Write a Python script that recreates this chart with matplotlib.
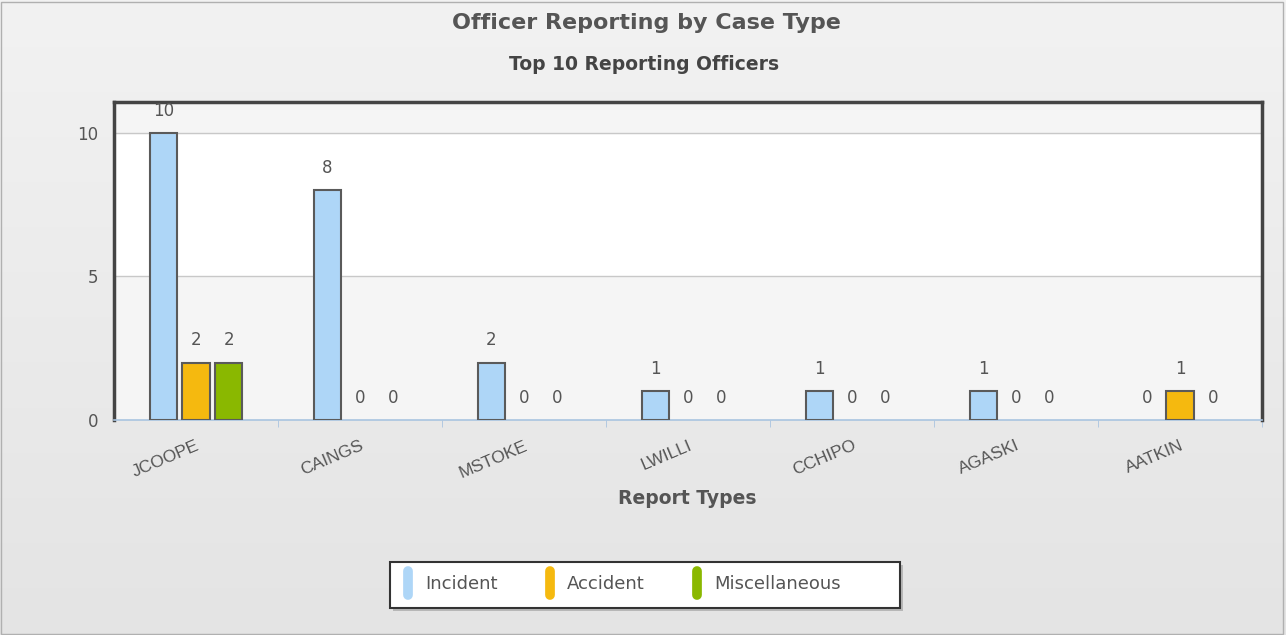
import matplotlib
matplotlib.use('Agg')
import matplotlib.pyplot as plt
from matplotlib.lines import Line2D
from matplotlib.markers import MarkerStyle
from matplotlib.patches import Rectangle
import numpy as np

# DATA
officers = ['JCOOPE', 'CAINGS', 'MSTOKE', 'LWILLI', 'CCHIPO', 'AGASKI', 'AATKIN']
series_names = ['Incident', 'Accident', 'Miscellaneous']
incident = [10, 8, 2, 1, 1, 1, 0]
accident = [2, 0, 0, 0, 0, 0, 1]
misc = [2, 0, 0, 0, 0, 0, 0]
y_ticks = [0, 5, 10]

COLORS = ['#aed6f7', '#f5b90f', '#8ab800']
TEXT = '#555555'

plt.rcParams['font.family'] = ['DejaVu Sans']

fig = plt.figure(figsize=(12.86, 6.35), dpi=100)

# background gradient
bg = fig.add_axes([0, 0, 1, 1], zorder=-10)
grad = np.linspace(0, 1, 256).reshape(-1, 1)
bg.imshow(grad, aspect='auto', cmap=matplotlib.colors.LinearSegmentedColormap.from_list(
    'bg', ['#f2f2f2', '#e4e4e4']), extent=[0, 1, 0, 1], origin='upper')
bg.set_axis_off()
fig.patches.append(Rectangle((0.001, 0.002), 0.997, 0.995, transform=fig.transFigure,
                             fill=False, edgecolor='#b0b0b0', linewidth=1))

ax = fig.add_axes([114 / 1286, 215 / 635, 1148 / 1286, 318 / 635])
ax.set_xlim(-0.5, len(officers) - 0.5)
ax.set_ylim(0, 11.08)

ax.axhspan(0, 5, color='#f5f5f5', zorder=0)
ax.axhspan(5, 10, color='white', zorder=0)
ax.axhspan(10, 11.08, color='#f5f5f5', zorder=0)
for yv in y_ticks[1:]:
    ax.axhline(yv, color='#c8c8c8', linewidth=1, zorder=1)

x = np.arange(len(officers))
width = 0.165
step = 0.2
for i, (vals, col) in enumerate(zip([incident, accident, misc], COLORS)):
    xs = x + (i - 1) * step
    for xi, v in zip(xs, vals):
        if v > 0:
            ax.bar(xi, v, width=width, color=col, edgecolor='#5a5a5a', linewidth=1.5, zorder=3)
        ax.annotate(str(v), (xi, v), xytext=(0, 16), textcoords='offset points',
                    ha='center', va='center', fontsize=12, color=TEXT)

ax.set_xticks(x)
ax.set_xticklabels(officers, rotation=23, ha='right', rotation_mode='anchor',
                   fontsize=12.5, color=TEXT, family='Liberation Sans')
ax.tick_params(axis='x', which='major', length=0, pad=13)
ax.set_xticks(np.arange(0.5, len(officers), 1), minor=True)
ax.tick_params(axis='x', which='minor', length=5, color='#a9c4e0', direction='out')

ax.set_yticks(y_ticks)
ax.set_yticklabels([str(v) for v in y_ticks], fontsize=12, color=TEXT)
ax.tick_params(axis='y', length=0, pad=11)

for side in ['left', 'top', 'right']:
    ax.spines[side].set_color('#444444')
    ax.spines[side].set_linewidth(2.5)
ax.spines['bottom'].set_color('#a9c4e0')
ax.spines['bottom'].set_linewidth(1.2)

fig.text(687 / 1286, 1 - 498 / 635, 'Report Types', ha='center', va='center',
         fontsize=13.5, fontweight='bold', color=TEXT)

fig.text(646 / 1286, 1 - 23 / 635, 'Officer Reporting by Case Type', ha='center', va='center',
         fontsize=16, fontweight='bold', color=TEXT)
fig.text(644 / 1286, 1 - 64 / 635, 'Top 10 Reporting Officers', ha='center', va='center',
         fontsize=13.5, fontweight='bold', color='#444444')

# legend box (drawn separately for its wider right padding) with a soft shadow
W, H = 1286, 635
fig.patches.append(Rectangle((393 / W, 1 - 611 / H), 510 / W, 46 / H, transform=fig.transFigure,
                             facecolor='#9a9a9a', edgecolor='none', alpha=0.6, zorder=4))
fig.patches.append(Rectangle((390 / W, 1 - 608 / H), 510 / W, 46 / H, transform=fig.transFigure,
                             facecolor='white', edgecolor='#333333', linewidth=1.5, zorder=5))

handles = [Line2D([], [], linestyle='none', marker=MarkerStyle('|', capstyle='round'),
                  markersize=17, markeredgewidth=7, color=c) for c in COLORS]
leg = fig.legend(handles, series_names, loc='center left', bbox_to_anchor=(400 / W, 1 - 584 / H),
                 ncol=3, frameon=False, fontsize=13, handlelength=0.9, handletextpad=0.5,
                 columnspacing=2.45, borderpad=0, borderaxespad=0, labelcolor=TEXT)
leg.set_zorder(6)

fig.savefig('out.png', dpi=100)
